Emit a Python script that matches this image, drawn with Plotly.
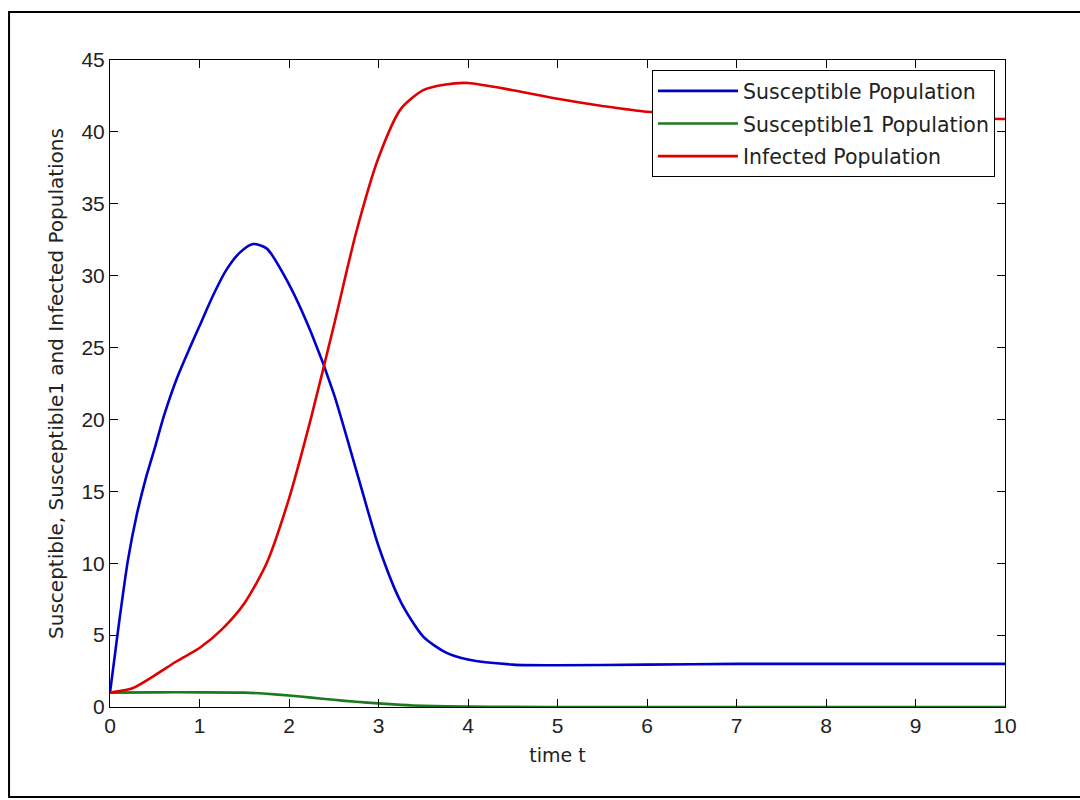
import plotly.graph_objects as go

# time samples
t_s = [0, 0.05, 0.1, 0.2, 0.3, 0.4, 0.5, 0.6, 0.75, 0.9, 1.0, 1.15, 1.3, 1.45, 1.6, 1.75, 2.0, 2.25, 2.5,
       2.75, 3.0, 3.25, 3.5, 3.75, 4.0, 4.5, 5.0, 6.0, 7.0, 8.0, 9.0, 10.0]
susceptible = [1.0, 3.4, 5.8, 10.2, 13.4, 15.9, 18.0, 20.2, 22.9, 25.1, 26.5, 28.6, 30.4, 31.6, 32.2, 31.9, 29.4,
               26.0, 21.8, 16.5, 11.2, 7.3, 4.9, 3.8, 3.3, 2.95, 2.9, 2.95, 3.0, 3.0, 3.0, 3.0]

t_i = [0, 0.25, 0.5, 0.75, 1.0, 1.25, 1.5, 1.75, 2.0, 2.25, 2.5, 2.75, 3.0, 3.25, 3.5, 3.75,
       4.0, 4.5, 5.0, 5.5, 6.0, 7.0, 8.0, 9.0, 10.0]
infected = [1.0, 1.3, 2.2, 3.2, 4.1, 5.4, 7.2, 10.0, 14.5, 20.2, 26.5, 33.0, 38.2, 41.6, 42.9, 43.3,
            43.4, 42.9, 42.3, 41.8, 41.4, 41.2, 41.0, 40.95, 40.9]

t_g = [0, 0.5, 1.0, 1.5, 1.75, 2.0, 2.25, 2.5, 2.75, 3.0, 3.25, 3.5, 4.0, 4.5, 5.0, 10.0]
susceptible1 = [1.0, 1.02, 1.02, 1.0, 0.92, 0.8, 0.65, 0.5, 0.36, 0.25, 0.15, 0.08, 0.03, 0.01, 0.0, 0.0]

x_ticks = list(range(0, 11))
y_ticks = list(range(0, 46, 5))

TICKFONT = "Liberation Sans, Arial, sans-serif"
TEXTFONT = "DejaVu Sans, Verdana, sans-serif"

fig = go.Figure()
fig.add_trace(go.Scatter(x=t_s, y=susceptible, mode="lines", name="Susceptible Population",
                         legendgroup="s",
                         line=dict(color="#0000CC", width=2.6, shape="spline", smoothing=0.7)))
fig.add_trace(go.Scatter(x=t_g, y=susceptible1, mode="lines", name="Susceptible1 Population",
                         legendgroup="s1",
                         line=dict(color="#1C7A1C", width=2.6, shape="spline", smoothing=0.7)))
fig.add_trace(go.Scatter(x=t_i, y=infected, mode="lines", name="Infected Population",
                         legendgroup="i",
                         line=dict(color="#E00000", width=2.6, shape="spline", smoothing=0.7)))

axis_common = dict(showgrid=False, zeroline=False, showline=True, linecolor="black", linewidth=1,
                   mirror="ticks", ticks="inside", ticklen=8, tickcolor="black", tickwidth=1,
                   tickfont=dict(family=TICKFONT, size=21, color="#222222"))

fig.update_xaxes(range=[0, 10], tickvals=x_ticks,
                 title=dict(text="time t", font=dict(family=TEXTFONT, size=19, color="#222222"), standoff=12),
                 **axis_common)
fig.update_yaxes(range=[0, 45], tickvals=y_ticks,
                 title=dict(text="Susceptible, Susceptible1 and Infected Populations",
                            font=dict(family=TEXTFONT, size=20, color="#222222"), standoff=12),
                 **axis_common)

fig.update_layout(
    width=1080, height=800,
    margin=dict(l=110, r=75, t=60, b=93, autoexpand=False),
    paper_bgcolor="white", plot_bgcolor="white",
    font=dict(family=TEXTFONT, size=20, color="#222222"),
    legend=dict(x=0.9888, y=0.9845, xanchor="right", yanchor="top",
                bgcolor="white", bordercolor="black", borderwidth=1,
                font=dict(family=TEXTFONT, size=20.5, color="#222222"),
                itemwidth=80, tracegroupgap=3),
    showlegend=True,
    shapes=[dict(type="rect", xref="paper", yref="paper",
                 x0=-0.1128, x1=1.2, y0=-0.139, y1=1.0742,
                 line=dict(color="black", width=2), layer="above")],
)

fig.write_html("out.html", config={"displayModeBar": False},
               post_script="document.body.style.margin='0';")
